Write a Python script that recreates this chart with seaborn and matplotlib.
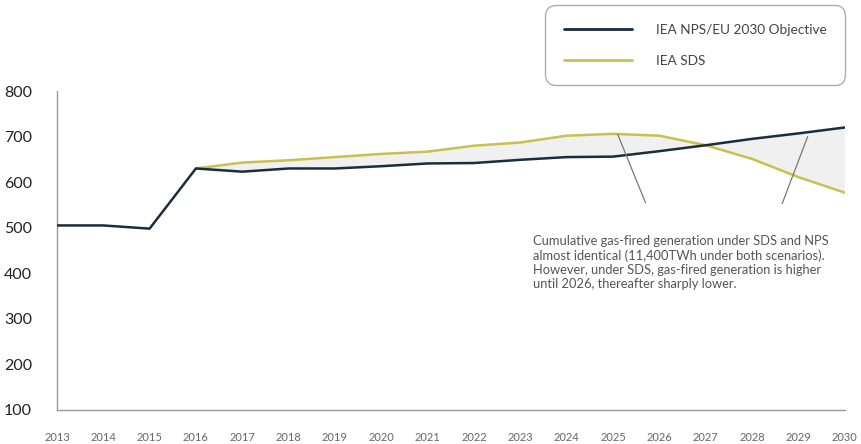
import numpy as np
import pandas as pd
import matplotlib
matplotlib.use("Agg")
import matplotlib.pyplot as plt
import seaborn as sns
from matplotlib.lines import Line2D

years = list(range(2013, 2031))
nps = [505, 505, 498, 630, 623, 630, 630, 635, 641, 642, 649, 655, 656, 668, 681, 695, 707, 720]
sds = [None, None, None, 630, 643, 648, 655, 662, 667, 680, 687, 702, 706, 702, 681, 651, 611, 577]
series_names = ["IEA NPS/EU 2030 Objective", "IEA SDS"]
y_ticks = [100, 200, 300, 400, 500, 600, 700, 800]
note = ("Cumulative gas-fired generation under SDS and NPS\n"
        "almost identical (11,400TWh under both scenarios).\n"
        "However, under SDS, gas-fired generation is higher\n"
        "until 2026, thereafter sharply lower.")

sns.set_theme(style="white")
plt.rcParams['font.family'] = ['Lato', 'DejaVu Sans']

navy = "#1b2c3d"
olive = "#c6c24c"
grey = "#9a9a9a"

df = pd.DataFrame({
    "year": years * 2,
    "value": nps + sds,
    "series": [series_names[0]] * len(years) + [series_names[1]] * len(years),
}).dropna()

fig = plt.figure(figsize=(8.62, 4.44), dpi=100)
ax = fig.add_axes([0.066, 0.0766, 0.914, 0.7184])

yrs_f = np.array(years[3:])
ax.fill_between(yrs_f, np.array(nps[3:], float), np.array(sds[3:], float),
                color="#eff0ef", zorder=1, linewidth=0)

sns.lineplot(data=df, x="year", y="value", hue="series",
             palette={series_names[0]: navy, series_names[1]: olive},
             hue_order=[series_names[1], series_names[0]],
             linewidth=1.8, ax=ax, legend=False, zorder=3)

ax.set_xlim(2013, 2030)
ax.set_ylim(100, 800)
ax.set_xticks(years)
ax.set_xticklabels([str(y) for y in years], fontsize=8, color="#666666")
ax.set_yticks(y_ticks)
ax.set_yticklabels([str(v) for v in y_ticks], fontsize=11.5, color="#222222")
ax.set_xlabel("")
ax.set_ylabel("")
for s in ["top", "right"]:
    ax.spines[s].set_visible(False)
for s in ["left", "bottom"]:
    ax.spines[s].set_color(grey)
    ax.spines[s].set_linewidth(1.0)
ax.tick_params(axis="y", length=4, color=grey, width=0.8, pad=14, direction="out")
ax.tick_params(axis="x", length=5, color=grey, width=0.8, pad=13, direction="inout")

ax.plot([2025.1, 2025.7], [705, 555], color="#777777", lw=0.9, zorder=4)
ax.plot([2029.2, 2028.65], [700, 553], color="#777777", lw=0.9, zorder=4)
ax.text(2023.27, 483, note, fontsize=9.3, color="#555555", va="top", ha="left",
        linespacing=1.2)

handles = [Line2D([0], [0], color=navy, lw=2.0), Line2D([0], [0], color=olive, lw=2.0)]
leg = fig.legend(handles, series_names, loc="upper left",
                 bbox_to_anchor=(0.628, 0.997), frameon=True, fontsize=9.8,
                 handlelength=5.0, handletextpad=1.8, borderpad=1.15,
                 labelspacing=1.4, fancybox=True)
leg.get_frame().set_edgecolor("#999999")
leg.get_frame().set_linewidth(1.0)
leg.get_frame().set_boxstyle("round,pad=0.2,rounding_size=0.8")
for t in leg.get_texts():
    t.set_color("#444444")

fig.savefig("out.png", dpi=100)
